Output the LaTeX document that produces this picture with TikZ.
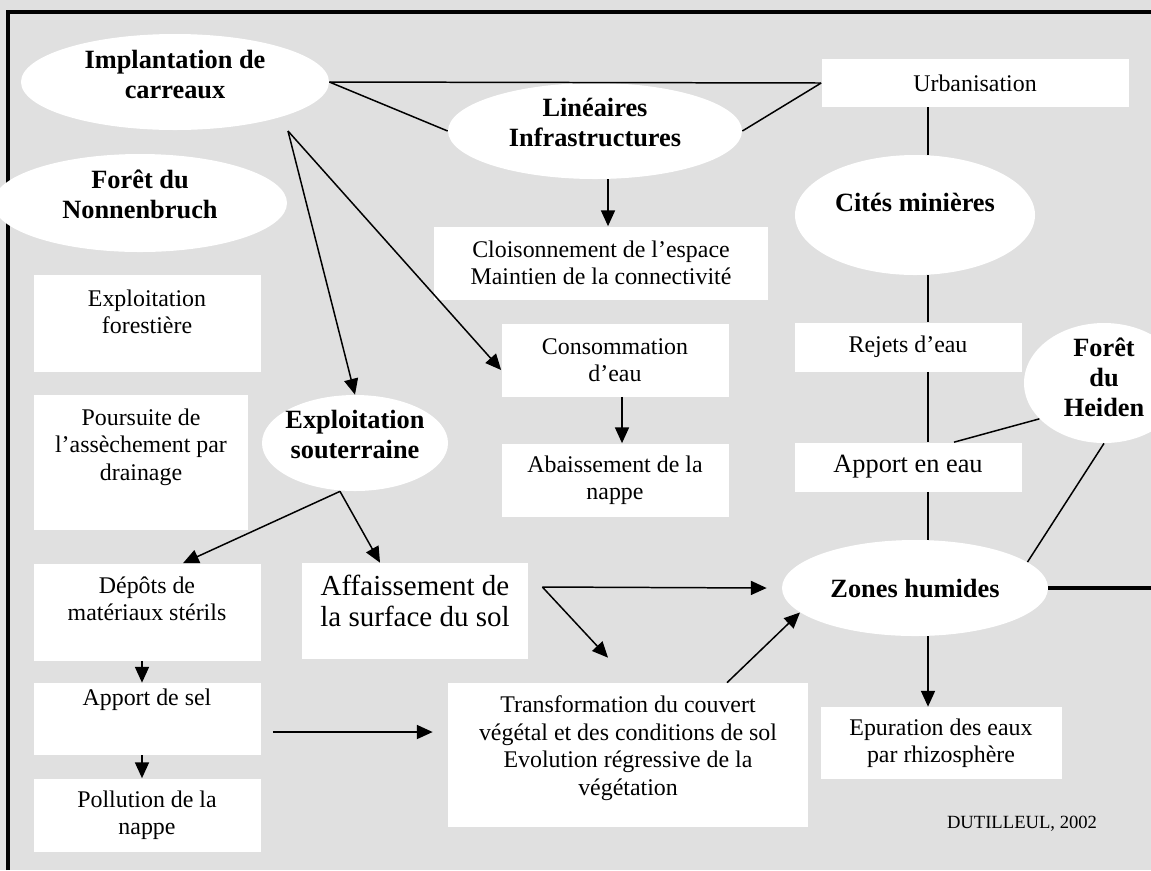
\documentclass[tikz,border=0pt]{standalone}
\usepackage{fontspec}
\setmainfont{Liberation Serif}
\usetikzlibrary{shapes.geometric, arrows.meta}
\definecolor{fond}{HTML}{E0E0E0}
\newlength{\unitpx}
\setlength{\unitpx}{0.02cm}

\begin{document}
\begin{tikzpicture}[x=0.02cm, y=-0.02cm,
		bulle/.style={ellipse, fill=white, inner sep=-8\unitpx, align=center,
			font=\fontsize{15}{17}\selectfont\bfseries},
		boite/.style={rectangle, fill=white, inner sep=0pt, align=center,
			font=\fontsize{13.6}{15.6}\selectfont},
		taille/.style 2 args={minimum width=#1\unitpx, minimum height=#2\unitpx},
		monte/.style={text depth=#1\unitpx},
		trait/.style={line width=0.85pt},
		fleche/.style={line width=0.85pt, -{Triangle[length=9pt, width=8pt]}},
		cadre/.style={line width=2pt}]
		\useasboundingbox (0, 0) rectangle (1151, 870);
		\fill[fond] (0, 0) rectangle (1151, 870);
		\draw[cadre] (8, 870) |- (1151, 12);
		%%%%%%%%%%%%%
		\node[bulle, taille={308}{96}, monte=16] (impl) at (175, 82) {Implantation de\\carreaux};
		\node[bulle, taille={294}{98}, monte=18] (nonnen) at (140, 203) {Forêt du\\Nonnenbruch};
		\node[bulle, taille={294}{96}, monte=18] (lineaires) at (595, 131) {Linéaires\\Infrastructures};
		\node[bulle, taille={240}{120}, monte=26] (cites) at (915, 215) {Cités minières};
		\node[bulle, taille={186}{96}, monte=18] (souterr) at (355, 443) {Exploitation\\souterraine};
		\node[bulle, taille={160}{120}, monte=12] (heiden) at (1104, 383) {Forêt\\du\\Heiden};
		\node[bulle, taille={266}{96}] (zones) at (915, 588) {Zones humides};
		%%%%%%%%%%%%%
		\node[boite, taille={307}{48}] (urban) at (975, 83) {Urbanisation};
		\node[boite, taille={334}{73}] (cloison) at (601, 263) {Cloisonnement de l’espace\\Maintien de la connectivité};
		\node[boite, taille={227}{73}] (conso) at (615, 360) {Consommation\\d’eau};
		\node[boite, taille={227}{73}] (abaiss) at (615, 480) {Abaissement de la\\nappe};
		\node[boite, taille={227}{49}] (rejets) at (908, 347) {Rejets d’eau};
		\node[boite, taille={227}{49}, font=\fontsize{15}{17}\selectfont] (apport) at (908, 467) {Apport en eau};
		\node[boite, taille={241}{72}] (epur) at (941, 743) {Epuration des eaux\\par rhizosphère};
		\node[boite, taille={227}{97}, monte=23] (forest) at (147, 323) {Exploitation\\forestière};
		\node[boite, taille={214}{135}, monte=35] (poursuite) at (141, 462) {Poursuite de\\l’assèchement par\\drainage};
		\node[boite, taille={227}{97}, monte=27] (depots) at (147, 612) {Dépôts de\\matériaux stérils};
		\node[boite, taille={226}{96}, monte=20, font=\fontsize{16.5}{17.6}\selectfont] (affaiss) at (415, 611) {Affaissement de\\la surface du sol};
		\node[boite, taille={227}{72}, monte=43] (sel) at (147, 719) {Apport de sel};
		\node[boite, taille={227}{73}] (pollution) at (147, 815) {Pollution de la\\nappe};
		\node[boite, taille={360}{144}, monte=19] (transfo) at (628, 755) {Transformation du couvert\\végétal et des conditions de sol\\Evolution régressive de la\\végétation};
		\node[font=\fontsize{10.6}{12}\selectfont] (source) at (1022, 824) {DUTILLEUL, 2002};
		%%%%%%%%%%%%%
		\coordinate (depart) at (288, 131);
		\coordinate (axe) at (928, 0);
		\coordinate (bord) at (1151, 588);
		\coordinate (relais) at ([shift={(14,-24)}]affaiss.east);
		%%%%%%%%%%%%%
		\draw[trait] (impl.east) -- (urban.west);
		\draw[trait] (impl.east) -- (lineaires.west);
		\draw[trait] (lineaires.east) -- (urban.west);
		\draw[fleche] ([xshift=13\unitpx]lineaires.south) -- ([xshift=7\unitpx]cloison.north);
		\draw[trait] (urban.south -| axe) -- (cites.north -| axe);
		\draw[trait] (cites.south -| axe) -- (rejets.north -| axe);
		\draw[trait] (rejets.south -| axe) -- (apport.north -| axe);
		\draw[trait] (apport.south -| axe) -- (zones.north -| axe);
		\draw[fleche] (zones.south -| axe) -- (epur.north -| axe);
		\draw[trait] (heiden.209) -- ([xshift=46\unitpx]apport.north);
		\draw[trait] (heiden.south) -- (zones.13);
		\draw[cadre] (zones.east) -- (bord);
		\draw[fleche] (depart) -- (souterr.north);
		\draw[fleche] (depart) -- ([yshift=-10\unitpx]conso.west);
		\draw[fleche] ([xshift=-15\unitpx]souterr.south) -- ([xshift=36\unitpx]depots.north);
		\draw[fleche] ([xshift=-15\unitpx]souterr.south) -- ([xshift=-35\unitpx]affaiss.north);
		\draw[fleche] ([xshift=7\unitpx]conso.south) -- ([xshift=7\unitpx]abaiss.north);
		\draw[fleche] ([xshift=-5\unitpx]depots.south) -- ([xshift=-5\unitpx]sel.north);
		\draw[fleche] ([xshift=-5\unitpx]sel.south) -- ([xshift=-5\unitpx]pollution.north);
		\draw[fleche] ([shift={(12,13)}]sel.east) -- ([shift={(-15,-23)}]transfo.west);
		\draw[fleche] (relais) -- ([xshift=-15\unitpx]zones.west);
		\draw[fleche] (relais) -- ([shift={(-20,-25)}]transfo.north);
		\draw[fleche] ([xshift=99\unitpx]transfo.north) -- (zones.192);
\end{tikzpicture}
\end{document}
